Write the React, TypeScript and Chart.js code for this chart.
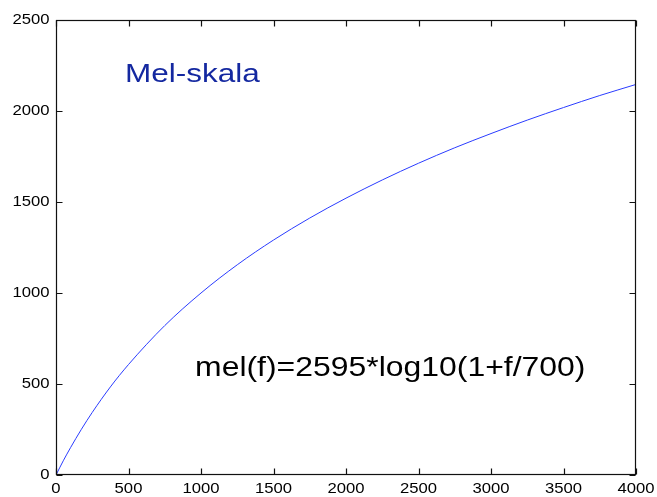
import React, { useEffect, useRef } from "react";
import { Chart, registerables } from "chart.js";

Chart.register(...registerables);

const freqHz = [0, 50, 100, 175, 250, 375, 500, 750, 1000, 1250, 1500, 1750, 2000, 2250, 2500, 2750, 3000, 3250, 3500, 3750, 4000];
const melValues = [0, 78, 150, 251, 344, 484, 607, 821, 1000, 1155, 1291, 1412, 1521, 1621, 1713, 1798, 1876, 1950, 2019, 2085, 2146];
const xTicks = [0, 500, 1000, 1500, 2000, 2500, 3000, 3500, 4000];
const yTicks = [0, 500, 1000, 1500, 2000, 2500];
const titleText = "Mel-skala";
const formulaText = "mel(f)=2595*log10(1+f/700)";

const FONT = '"Liberation Sans", Arial, Helvetica, sans-serif';

const framePlugin = {
  id: "matlabFrame",
  afterDraw(chart: any) {
    const { ctx, chartArea: a, scales } = chart;
    const xs = scales.x;
    const ys = scales.y;
    ctx.save();
    ctx.strokeStyle = "#111";
    ctx.lineWidth = 1.2;
    const L = Math.round(a.left) + 0.5;
    const R = Math.round(a.right) - 0.5;
    const T = Math.round(a.top) + 0.5;
    const B = Math.round(a.bottom) - 0.5;
    ctx.strokeRect(L, T, R - L, B - T);
    const tl = 6;
    ctx.beginPath();
    xTicks.forEach((v) => {
      const px = Math.round(xs.getPixelForValue(v)) + 0.5;
      ctx.moveTo(px, B);
      ctx.lineTo(px, B - tl);
      ctx.moveTo(px, T);
      ctx.lineTo(px, T + tl);
    });
    yTicks.forEach((v) => {
      const py = Math.round(ys.getPixelForValue(v)) + 0.5;
      ctx.moveTo(L, py);
      ctx.lineTo(L + tl, py);
      ctx.moveTo(R, py);
      ctx.lineTo(R - tl, py);
    });
    ctx.stroke();

    const drawStretched = (text: string, x: number, y: number, size: number, sx: number, color: string, align: CanvasTextAlign, baseline: CanvasTextBaseline) => {
      ctx.save();
      ctx.font = `${size}px ${FONT}`;
      ctx.fillStyle = color;
      ctx.textAlign = align;
      ctx.textBaseline = baseline;
      ctx.translate(x, y);
      ctx.scale(sx, 1);
      ctx.fillText(text, 0, 0);
      ctx.restore();
    };

    xTicks.forEach((v) => {
      drawStretched(String(v), xs.getPixelForValue(v), B + 8, 14, 1.19, "#000", "center", "top");
    });
    yTicks.forEach((v) => {
      drawStretched(String(v), L - 7, ys.getPixelForValue(v), 14, 1.19, "#000", "right", "middle");
    });

    drawStretched(titleText, xs.getPixelForValue(476), ys.getPixelForValue(2198), 25, 1.26, "#1428a0", "left", "middle");
    drawStretched(formulaText, xs.getPixelForValue(959), ys.getPixelForValue(588), 28, 1.14, "#000", "left", "middle");
    ctx.restore();
  },
};

export default function App() {
  const ref = useRef<HTMLCanvasElement | null>(null);
  useEffect(() => {
    if (!ref.current) return;
    const chart = new Chart(ref.current, {
      type: "line",
      data: {
        datasets: [
          {
            data: freqHz.map((f, i) => ({ x: f, y: melValues[i] })),
            borderColor: "#2a3cff",
            borderWidth: 1,
            pointRadius: 0,
            cubicInterpolationMode: "monotone",
            fill: false,
          },
        ],
      },
      options: {
        animation: false,
        responsive: false,
        events: [],
        layout: { padding: { top: 20, right: 21, left: 0, bottom: 0 } },
        plugins: { legend: { display: false }, tooltip: { enabled: false } },
        scales: {
          x: {
            type: "linear",
            min: 0,
            max: 4000,
            ticks: { display: false, stepSize: 500 },
            grid: { display: false },
            border: { display: false },
            afterFit: (s: any) => {
              s.height = 22;
            },
          },
          y: {
            type: "linear",
            min: 0,
            max: 2500,
            ticks: { display: false, stepSize: 500 },
            grid: { display: false },
            border: { display: false },
            afterFit: (s: any) => {
              s.width = 56;
            },
          },
        },
      },
      plugins: [framePlugin],
    });
    return () => chart.destroy();
  }, []);
  return (
    <div style={{ position: "absolute", left: 0, top: 0, width: 657, height: 497, background: "#fff" }}>
      <canvas ref={ref} width={657} height={497} />
    </div>
  );
}
